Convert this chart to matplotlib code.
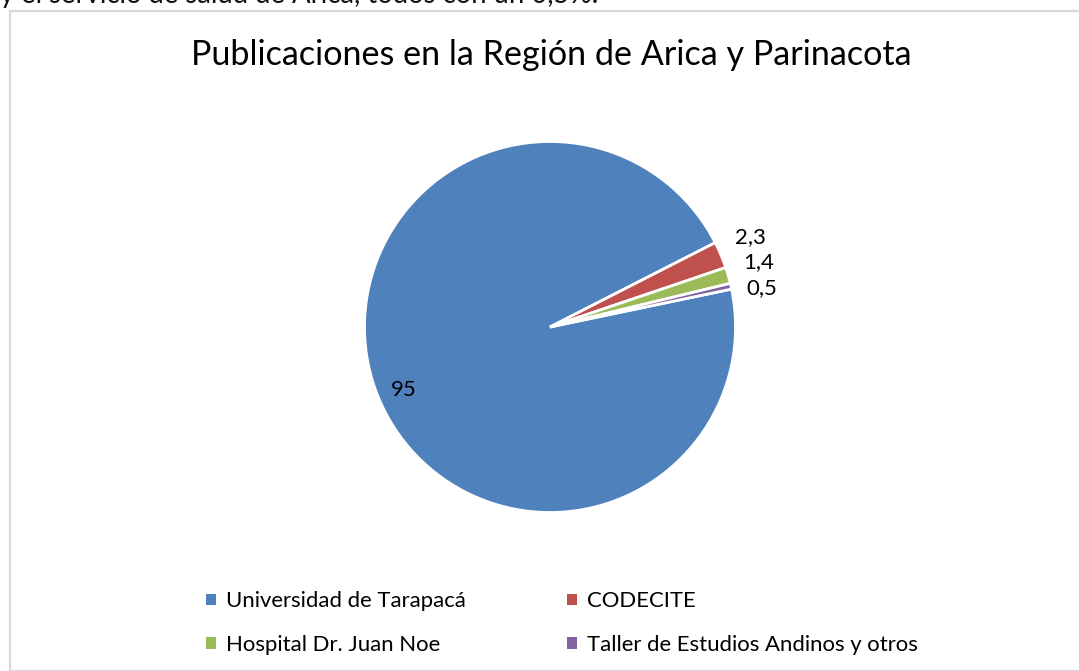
import matplotlib
matplotlib.use("Agg")
import matplotlib.pyplot as plt
from matplotlib.patches import Rectangle, Patch
import numpy as np

categories = ["Universidad de Tarapacá", "CODECITE", "Hospital Dr. Juan Noe",
              "Taller de Estudios Andinos y otros"]
values = [95, 2.3, 1.4, 0.5]
colors = ["#4F81BD", "#C0504D", "#9BBB59", "#8064A2"]
title = "Publicaciones en la Región de Arica y Parinacota"
top_text = "y el servicio de salud de Arica, todos con un 0,5%."

plt.rcParams['font.family'] = ['Lato', 'DejaVu Sans']

W, H = 1079, 671
fig = plt.figure(figsize=(W / 100, H / 100), dpi=100)

# chart border
fig.patches.append(Rectangle((10 / W, 0), (W + 10) / W, (H - 11) / H, transform=fig.transFigure,
                             fill=False, edgecolor="#d9d9d9", linewidth=1.6, zorder=0))

# clipped text above the chart
fig.text(0.0, 1 - 3 / H, top_text, ha="left", va="baseline", fontsize=19.8, color="#111111")

# title
fig.text(551 / W, 1 - 55 / H, title, ha="center", va="center", fontsize=24.6, color="#000000")

cx, cy, R = 550, 327, 185.5
ax = fig.add_axes([(cx - R) / W, (H - cy - R) / H, 2 * R / W, 2 * R / H])
wedges, _ = ax.pie(values, colors=colors, startangle=11.8, counterclock=False,
                   wedgeprops=dict(edgecolor="white", linewidth=2))
ax.set_xlim(-1, 1)
ax.set_ylim(-1, 1)
ax.set_aspect("equal")
ax.axis("off")

def fmt(v):
    return ("%g" % v).replace(".", ",")

# big slice label inside
w0 = wedges[0]
th = np.deg2rad((w0.theta1 + w0.theta2) / 2 + 4)
ax.text(0.86 * np.cos(th), 0.86 * np.sin(th), fmt(values[0]), ha="center", va="center",
        fontsize=16, color="#000000")

# small slice labels outside, stacked so they do not overlap
prev_y = None
for w, v in zip(wedges[1:], values[1:]):
    th = np.deg2rad((w.theta1 + w.theta2) / 2)
    x, y = 1.17 * np.cos(th), 1.2 * np.sin(th) + 0.02
    if prev_y is not None:
        y = min(y, prev_y - 0.138)
    prev_y = y
    ax.text(x, y, fmt(v), ha="center", va="center", fontsize=16, color="#000000",
            clip_on=False)

order = [0, 2, 1, 3]
handles = [Patch(facecolor=colors[i], edgecolor="none") for i in order]
labels = [categories[i] for i in order]
fig.legend(handles, labels, ncol=2, loc="center", bbox_to_anchor=(562 / W, 1 - 623 / H),
           frameon=False, fontsize=15.9, handlelength=0.45, handleheight=0.45,
           handletextpad=0.45, columnspacing=4.6, labelspacing=1.05)

fig.savefig("out.png", dpi=100)
